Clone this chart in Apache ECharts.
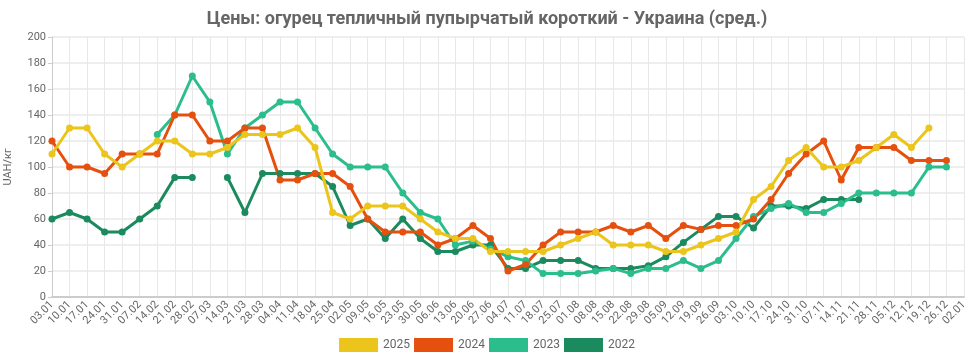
<!DOCTYPE html>
<html>
<head>
<meta charset="utf-8">
<script src="https://cdn.jsdelivr.net/npm/echarts@6/dist/echarts.min.js"></script>
<style>html,body{margin:0;padding:0;background:#fff;}#c{width:974px;height:361px;}</style>
</head>
<body>
<div id="c"></div>
<script>
const categories = ["03.01","10.01","17.01","24.01","31.01","07.02","14.02","21.02","28.02","07.03","14.03","21.03","28.03","04.04","11.04","18.04","25.04","02.05","09.05","16.05","23.05","30.05","06.06","13.06","20.06","27.06","04.07","11.07","18.07","25.07","01.08","08.08","15.08","22.08","29.08","05.09","12.09","19.09","26.09","03.10","10.10","17.10","24.10","31.10","07.11","14.11","21.11","28.11","05.12","12.12","19.12","26.12","02.01"];
const s2025 = [110,130,130,110,100,110,120,120,110,110,115,125,125,125,130,115,65,60,70,70,70,60,50,45,45,35,35,35,35,40,45,50,40,40,40,35,35,40,45,50,75,85,105,115,100,100,105,115,125,115,130,null,null];
const s2024 = [120,100,100,95,110,110,110,140,140,120,120,130,130,90,90,95,95,85,60,50,50,50,40,45,55,45,20,25,40,50,50,50,55,50,55,45,55,52,55,55,60,75,95,110,120,90,115,115,115,105,105,105,null];
const s2023 = [null,null,null,null,null,null,125,140,170,150,110,130,140,150,150,130,110,100,100,100,80,65,60,40,43,37,31,28,18,18,18,20,22,18,22,22,28,22,28,45,62,68,72,65,65,72,80,80,80,80,100,100,null];
const s2022 = [60,65,60,50,50,60,70,92,92,null,92,65,95,95,95,95,85,55,60,45,60,45,35,35,40,40,22,22,28,28,28,22,22,22,24,31,42,52,62,62,53,70,70,68,75,75,75,null,null,null,null,null,null];
const seriesNames = ["2025","2024","2023","2022"];
const colors = {"2025":"#EBC51C","2024":"#E6500F","2023":"#2BBE8C","2022":"#1B8A5E"};
const yTicks = {min:0,max:200,interval:20};

const dataByName = {"2025":s2025,"2024":s2024,"2023":s2023,"2022":s2022};
const drawOrder = ["2022","2023","2024","2025"];
const chart = echarts.init(document.getElementById('c'), null, {renderer:'canvas'});
chart.setOption({
  animation:false,
  textStyle:{fontFamily:'Roboto'},
  title:{text:'Цены: огурец тепличный пупырчатый короткий - Украина (сред.)',left:'center',top:5,
    textStyle:{fontFamily:'Roboto',fontSize:18,fontWeight:'bold',color:'#666'}},
  legend:{data:seriesNames,bottom:4,left:'center',icon:'rect',itemWidth:39,itemHeight:14,itemGap:4,
    textStyle:{fontFamily:'Roboto',fontSize:12,color:'#666'}},
  grid:{left:52,right:10,top:37,bottom:64,containLabel:false,outerBoundsMode:'none'},
  xAxis:{type:'category',data:categories,boundaryGap:false,
    axisLine:{lineStyle:{color:'#ccc',width:2}},axisTick:{show:false},
    axisLabel:{rotate:45,fontSize:11,color:'#666',interval:0,margin:6},
    splitLine:{show:true,lineStyle:{color:'#e8e8e8'}}},
  yAxis:{type:'value',min:yTicks.min,max:yTicks.max,interval:yTicks.interval,
    name:'UAH/кг',nameLocation:'middle',nameGap:38,nameTextStyle:{fontSize:11,color:'#666'},
    axisLine:{show:true,lineStyle:{color:'#ccc'}},axisTick:{show:true,length:4,lineStyle:{color:'#ccc'}},
    axisLabel:{fontSize:11,color:'#666',margin:6},
    splitLine:{lineStyle:{color:'#e8e8e8',width:1.5}}},
  series:drawOrder.map(n=>({name:n,type:'line',data:dataByName[n],connectNulls:false,
    symbol:'circle',symbolSize:7,showSymbol:true,
    itemStyle:{color:colors[n]},lineStyle:{color:colors[n],width:3}}))
});
</script>
</body>
</html>
